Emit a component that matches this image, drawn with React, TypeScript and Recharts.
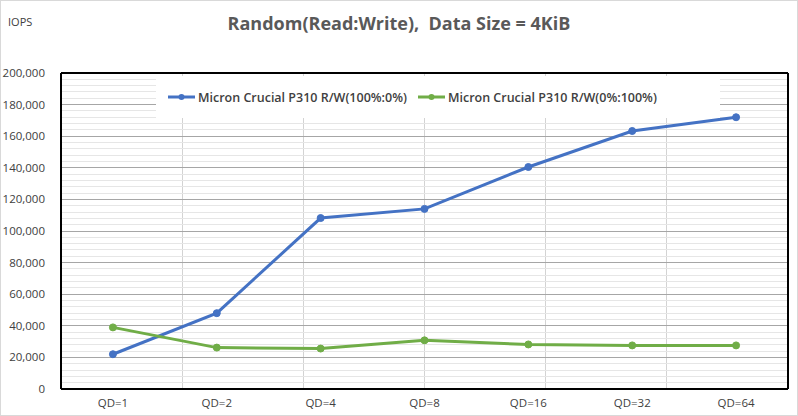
import React from 'react';
import {
  LineChart,
  Line,
  XAxis,
  YAxis,
  CartesianGrid,
  Legend,
  ReferenceLine,
} from 'recharts';

const categories = ['QD=1', 'QD=2', 'QD=4', 'QD=8', 'QD=16', 'QD=32', 'QD=64'];
const readValues = [22000, 48000, 108200, 114000, 140500, 163300, 172000];
const writeValues = [39000, 26200, 25600, 30800, 28200, 27600, 27600];
const yTicks = [0, 20000, 40000, 60000, 80000, 100000, 120000, 140000, 160000, 180000, 200000];
const minorTicks = Array.from({ length: 51 }, (_, i) => i * 4000).filter((v) => v % 20000 !== 0);
const bandTicks = [0, 1, 2, 3, 4, 5, 6, 7];

const seriesNames = ['Micron Crucial P310 R/W(100%:0%)', 'Micron Crucial P310 R/W(0%:100%)'];
const colors = ['#4472C4', '#70AD47'];

const data = categories.map((c, i) => ({ qd: c, read: readValues[i], write: writeValues[i] }));

const FONT = '"Open Sans", "Noto Sans", sans-serif';

const LegendContent = () => (
  <div
    style={{
      display: 'flex',
      alignItems: 'center',
      height: '100%',
      paddingLeft: 12,
      fontFamily: FONT,
      fontSize: 12.5,
      fontWeight: 600,
      color: '#404040',
      boxSizing: 'border-box',
    }}
  >
    {seriesNames.map((n, i) => (
      <div key={n} style={{ display: 'flex', alignItems: 'center', marginRight: i === 0 ? 11 : 0 }}>
        <svg width={27} height={10} style={{ marginRight: 3 }}>
          <line x1={0} y1={5} x2={27} y2={5} stroke={colors[i]} strokeWidth={3} />
          <circle cx={13.5} cy={5} r={3} fill={colors[i]} />
        </svg>
        <span style={{ whiteSpace: 'nowrap' }}>{n}</span>
      </div>
    ))}
  </div>
);

export default function App() {
  return (
    <div
      style={{
        position: 'absolute',
        left: 0,
        top: 0,
        width: 798,
        height: 416,
        border: '1px solid #d9d9d9',
        boxSizing: 'border-box',
        background: '#fff',
        fontFamily: FONT,
      }}
    >
      <div
        style={{
          position: 'absolute',
          left: 0,
          top: 8,
          width: 796,
          textAlign: 'center',
          fontSize: 18,
          fontWeight: 700,
          color: '#595959',
          whiteSpace: 'pre',
          lineHeight: '28px',
        }}
      >
        {'Random(Read:Write),  Data Size = 4KiB'}
      </div>
      <div
        style={{
          position: 'absolute',
          left: 7,
          top: 13,
          fontSize: 11,
          color: '#404040',
          lineHeight: '16px',
        }}
      >
        IOPS
      </div>
      <LineChart
        width={796}
        height={414}
        data={data}
        margin={{ top: 71, right: 8, bottom: 0, left: 0 }}
      >
        <XAxis xAxisId="grid" type="number" domain={[0, 7]} ticks={bandTicks} hide />
        <CartesianGrid
          xAxisId="grid"
          horizontal={false}
          stroke="#d3d3d3"
          shapeRendering="crispEdges"
        />
        {minorTicks.map((v) => (
          <ReferenceLine
            key={v}
            y={v}
            stroke="#e6e6e6"
            strokeWidth={1}
            shapeRendering="crispEdges"
            zIndex={-50}
          />
        ))}
        <CartesianGrid
          xAxisId="grid"
          vertical={false}
          stroke="#a6a6a6"
          shapeRendering="crispEdges"
        />
        <XAxis
          dataKey="qd"
          scale="band"
          height={26}
          stroke="#000"
          axisLine={{ stroke: '#000', strokeWidth: 2 }}
          tickLine={false}
          tickSize={6}
          tickMargin={4}
          interval={0}
          tick={{ fill: '#404040', fontSize: 11.5, fontFamily: FONT }}
        />
        <XAxis
          xAxisId="top"
          dataKey="qd"
          orientation="top"
          height={1}
          stroke="#000"
          tick={false}
          tickLine={false}
          axisLine={{ stroke: '#000', strokeWidth: 2 }}
        />
        <YAxis
          domain={[0, 200000]}
          ticks={yTicks}
          width={60}
          stroke="#000"
          axisLine={{ stroke: '#000', strokeWidth: 2 }}
          tickLine={false}
          tickSize={6}
          tickMargin={10}
          tickFormatter={(v: number) => v.toLocaleString('en-US')}
          tick={{ fill: '#404040', fontSize: 11.5, fontFamily: FONT }}
        />
        <YAxis
          yAxisId="right"
          orientation="right"
          width={1}
          domain={[0, 200000]}
          stroke="#000"
          tick={false}
          tickLine={false}
          axisLine={{ stroke: '#000', strokeWidth: 2 }}
        />
        <Line
          dataKey="read"
          name={seriesNames[0]}
          stroke={colors[0]}
          strokeWidth={3}
          dot={{ r: 3.5, fill: colors[0], stroke: colors[0], strokeWidth: 1 }}
          isAnimationActive={false}
        />
        <Line
          dataKey="write"
          name={seriesNames[1]}
          stroke={colors[1]}
          strokeWidth={3}
          dot={{ r: 3.5, fill: colors[1], stroke: colors[1], strokeWidth: 1 }}
          isAnimationActive={false}
        />
        <Legend
          layout="horizontal"
          verticalAlign="middle"
          align="center"
          content={<LegendContent />}
          wrapperStyle={{
            position: 'absolute',
            left: 155,
            top: 75,
            width: 564,
            height: 42,
            background: '#fff',
          }}
        />
      </LineChart>
    </div>
  );
}
